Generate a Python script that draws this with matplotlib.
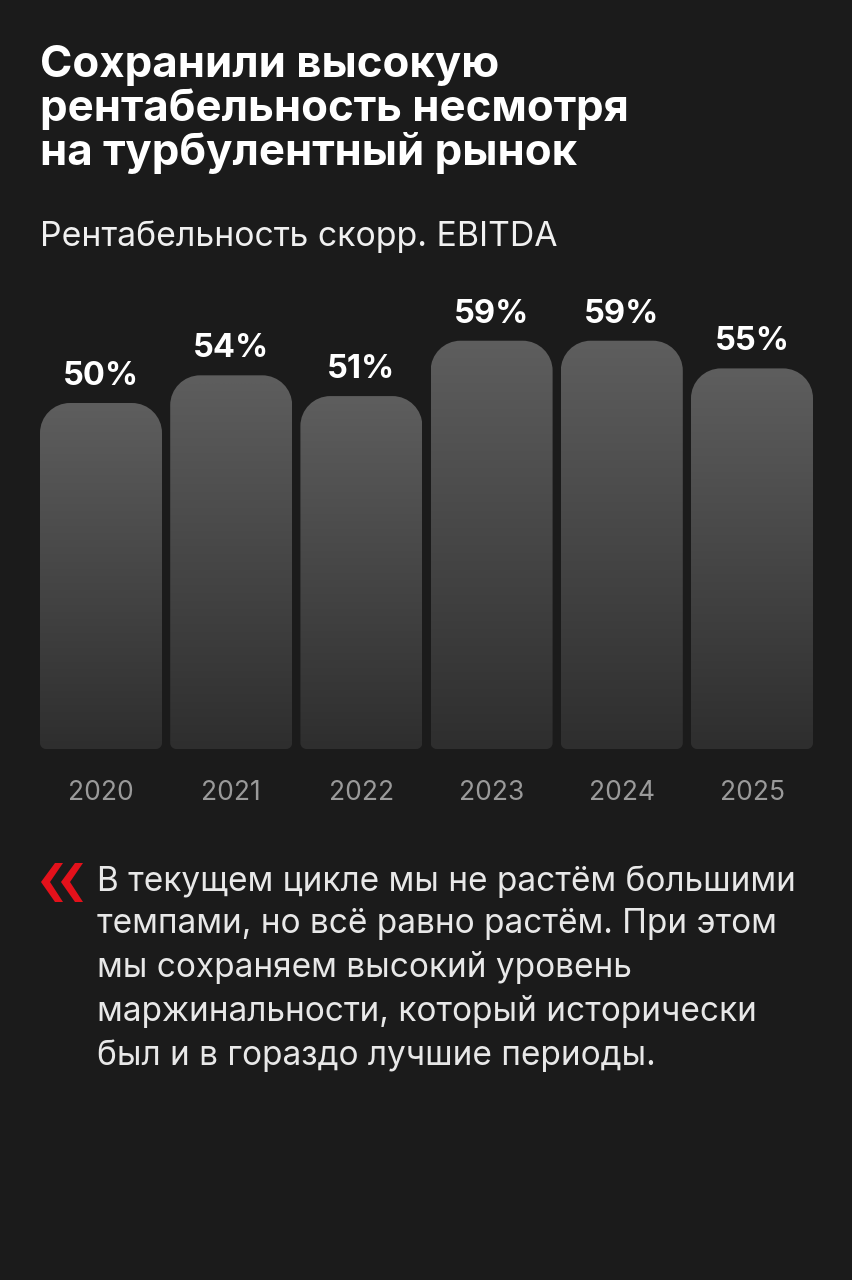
import matplotlib
matplotlib.use("Agg")
import matplotlib.pyplot as plt
import numpy as np
from matplotlib.path import Path
from matplotlib.patches import PathPatch, Polygon

plt.rcParams['font.family'] = ['Inter', 'DejaVu Sans']

years = ['2020', '2021', '2022', '2023', '2024', '2025']
margin = [50, 54, 51, 59, 59, 55]
labels = ['50%', '54%', '51%', '59%', '59%', '55%']

title = 'Сохранили высокую\nрентабельность несмотря\nна турбулентный рынок'
subtitle = 'Рентабельность скорр. EBITDA'
quote = ('В текущем цикле мы не растём большими\n'
         'темпами, но всё равно растём. При этом\n'
         'мы сохраняем высокий уровень\n'
         'маржинальности, который исторически\n'
         'был и в гораздо лучшие периоды.')

BG = '#1b1b1b'
W, H = 853, 1280

fig = plt.figure(figsize=(W / 100, H / 100), dpi=100, facecolor=BG)

# bar area in pixels: left 40, right 813, baseline at y=749 from top
bw = 0.937
x0, x1 = -bw / 2, len(years) - 1 + bw / 2
ymax = 70
px_per_y = 6.92
ax_w = 773
ax_h = ymax * px_per_y
ax = fig.add_axes([40 / W, (H - 749) / H, ax_w / W, ax_h / H])
ax.set_facecolor(BG)
ax.set_xlim(x0, x1)
ax.set_ylim(0, ymax)
ax.axis('off')

sx = (x1 - x0) / ax_w      # data x per pixel
sy = ymax / ax_h           # data y per pixel


def rounded_bar(xc, h, r_top=30, r_bot=6):
    left, right = xc - bw / 2, xc + bw / 2
    rtx, rty = r_top * sx, r_top * sy
    rbx, rby = r_bot * sx, r_bot * sy
    k = 0.5523
    verts = [
        (left, rby),
        (left, h - rty),
        (left, h - rty + k * rty), (left + rtx - k * rtx, h), (left + rtx, h),
        (right - rtx, h),
        (right - rtx + k * rtx, h), (right, h - rty + k * rty), (right, h - rty),
        (right, rby),
        (right, rby - k * rby), (right - rbx + k * rbx, 0), (right - rbx, 0),
        (left + rbx, 0),
        (left + rbx - k * rbx, 0), (left, rby - k * rby), (left, rby),
        (left, rby),
    ]
    codes = ([Path.MOVETO, Path.LINETO] + [Path.CURVE4] * 3 + [Path.LINETO]
             + [Path.CURVE4] * 3 + [Path.LINETO] + [Path.CURVE4] * 3
             + [Path.LINETO] + [Path.CURVE4] * 3 + [Path.CLOSEPOLY])
    return Path(verts, codes)


grad = np.linspace(0, 1, 256).reshape(-1, 1)
cmap = matplotlib.colors.LinearSegmentedColormap.from_list(
    'bar', ['#2e2e2e', '#5e5e5e'])

for i, v in enumerate(margin):
    patch = PathPatch(rounded_bar(i, v), facecolor='none', edgecolor='none')
    ax.add_patch(patch)
    im = ax.imshow(grad, extent=(i - bw / 2, i + bw / 2, 0, v), origin='lower',
                   cmap=cmap, aspect='auto', interpolation='bicubic', zorder=1)
    im.set_clip_path(patch)
    ax.annotate(labels[i], (i, v), xytext=(0, 8), textcoords='offset points',
                ha='center', va='bottom', color='white', fontsize=23.5,
                fontweight='bold')
    ax.annotate(years[i], (i, 0), xytext=(0, -31.5), textcoords='offset points',
                ha='center', va='center', color='#9a9a9a', fontsize=19)

# header
fig.text(40 / W, 1 - 45 / H, title, ha='left', va='top', color='white',
         fontsize=31.5, fontweight='bold', linespacing=1.07)
fig.text(40 / W, 1 - 237 / H, subtitle, ha='left', va='center',
         color='#f0f0f0', fontsize=24.3)

# quote
fig.text(97 / W, 1 - 865 / H, quote, ha='left', va='top', color='#e8e8e8',
         fontsize=24, linespacing=1.42)

red = '#e3111b'
for dx in (0, 20):
    pts = [(41, 882), (55, 863), (63, 863), (50, 882), (63, 902), (55, 902)]
    pts = [((x + dx) / W, 1 - y / H) for x, y in pts]
    fig.patches.append(Polygon(pts, closed=True, facecolor=red,
                               edgecolor='none', transform=fig.transFigure))

fig.savefig('out.png', dpi=100, facecolor=BG)
